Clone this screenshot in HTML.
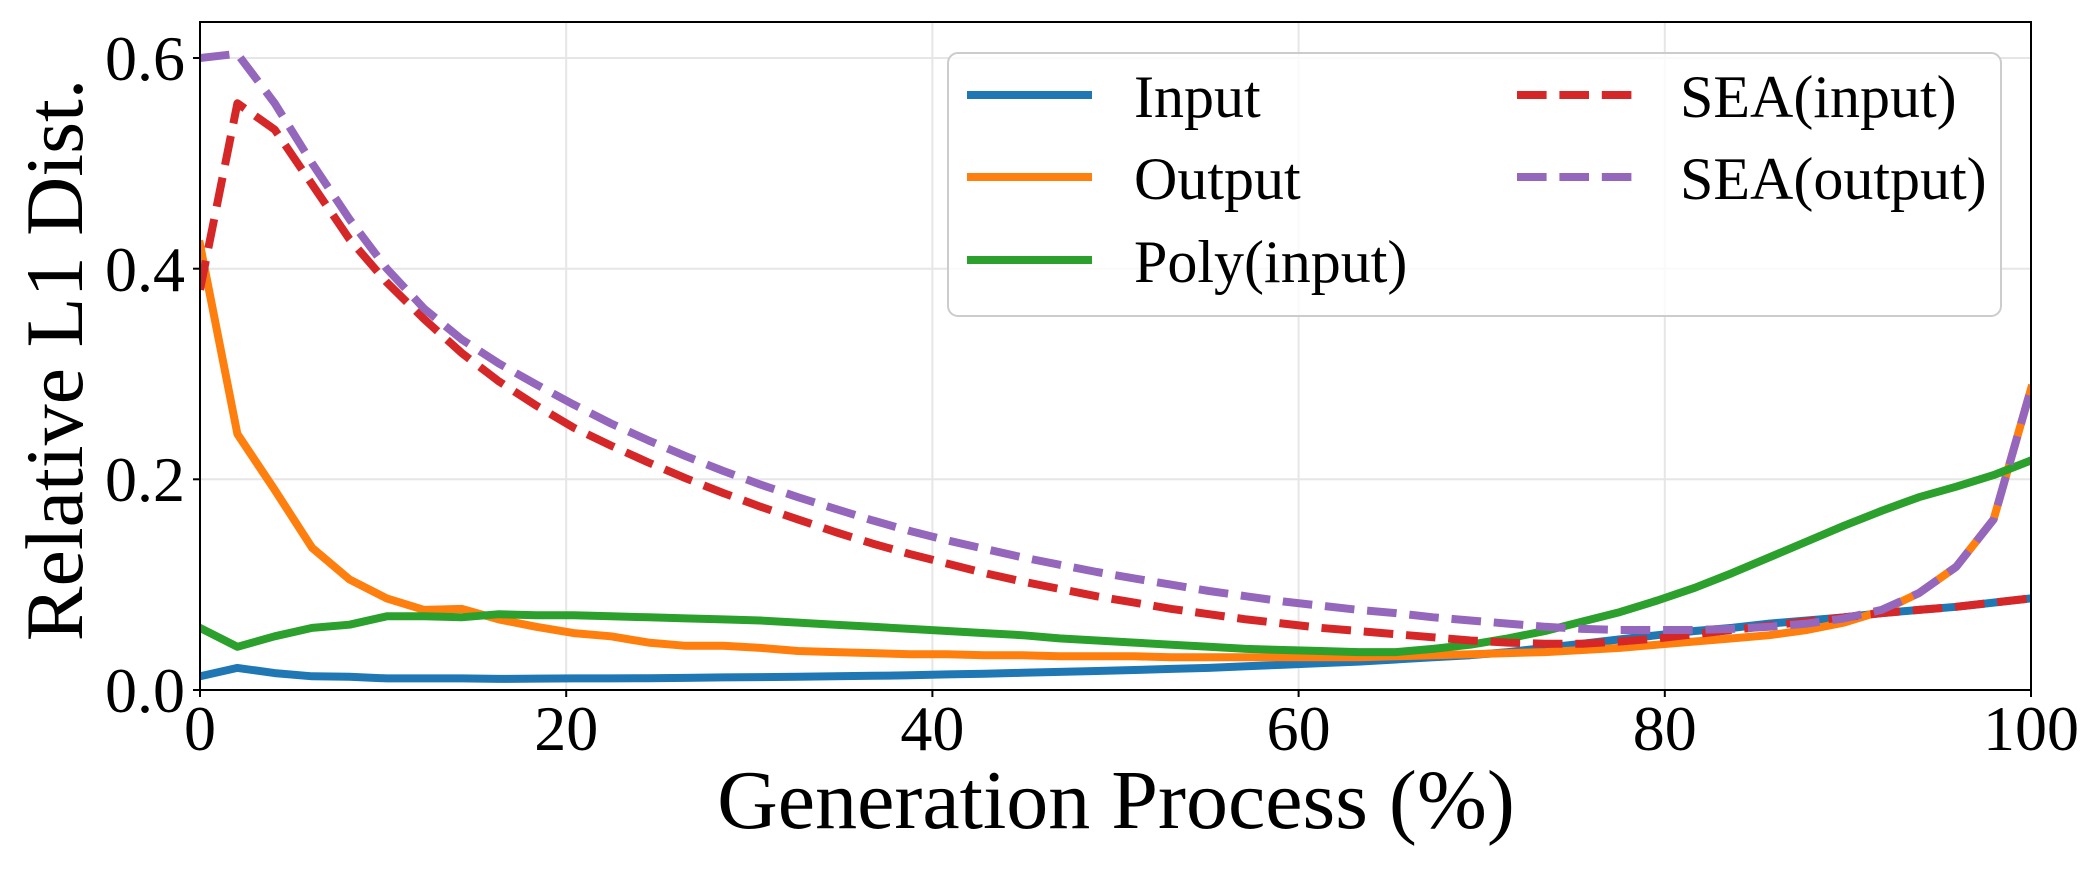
<!DOCTYPE html>
<html>
<head>
<meta charset="utf-8">
<style>
  html, body { margin: 0; padding: 0; background: #ffffff; }
  body { width: 2100px; height: 870px; overflow: hidden; }
  svg { display: block; }
  text { font-family: "Liberation Serif", "Times New Roman", serif; fill: #000; }
</style>
</head>
<body>
<svg width="2100" height="870" viewBox="0 0 2100 870" xmlns="http://www.w3.org/2000/svg">
  <defs>
    <clipPath id="axclip">
      <rect x="200" y="22" width="1831" height="668"/>
    </clipPath>
  </defs>
  <rect x="0" y="0" width="2100" height="870" fill="#ffffff"/>

  <!-- grid -->
  <g stroke="#e6e6e6" stroke-width="2" fill="none">
    <line x1="200" y1="22" x2="200" y2="690"/>
    <line x1="566.2" y1="22" x2="566.2" y2="690"/>
    <line x1="932.4" y1="22" x2="932.4" y2="690"/>
    <line x1="1298.6" y1="22" x2="1298.6" y2="690"/>
    <line x1="1664.8" y1="22" x2="1664.8" y2="690"/>
    <line x1="2031" y1="22" x2="2031" y2="690"/>
    <line x1="200" y1="690" x2="2031" y2="690"/>
    <line x1="200" y1="479.3" x2="2031" y2="479.3"/>
    <line x1="200" y1="268.7" x2="2031" y2="268.7"/>
    <line x1="200" y1="58" x2="2031" y2="58"/>
  </g>

  <g clip-path="url(#axclip)" fill="none" stroke-width="8" stroke-linejoin="round">
    <!-- Input (blue) -->
    <polyline stroke="#1f77b4" stroke-linecap="square" points="200.0,676.3 237.4,667.9 274.7,673.1 312.1,676.3 349.5,676.8 386.8,678.4 424.2,678.4 461.6,678.4 498.9,678.9 536.3,678.6 573.7,678.4 611.0,678.4 648.4,678.2 685.8,677.9 723.1,677.4 760.5,677.1 797.9,676.8 835.2,676.3 872.6,675.8 910.0,675.3 947.3,674.4 984.7,673.7 1022.1,672.8 1059.4,671.9 1096.8,671.0 1134.2,670.0 1171.5,668.9 1208.9,667.9 1246.3,666.3 1283.6,664.7 1321.0,663.1 1358.4,661.6 1395.7,659.5 1433.1,657.3 1470.5,655.2 1507.8,652.1 1545.2,647.9 1582.6,643.7 1619.9,639.4 1657.3,635.2 1694.7,631.0 1732.0,627.9 1769.4,623.6 1806.8,620.5 1844.1,617.3 1881.5,613.1 1918.9,609.9 1956.2,606.8 1993.6,602.6 2031.0,598.4"/>
    <!-- Output (orange) -->
    <polyline stroke="#ff7f0e" stroke-linecap="square" points="200.0,244.4 237.4,434.0 274.7,489.9 312.1,547.8 349.5,579.4 386.8,598.4 424.2,609.9 461.6,608.9 498.9,619.4 536.3,626.8 573.7,633.1 611.0,636.3 648.4,642.6 685.8,645.8 723.1,645.8 760.5,647.9 797.9,651.0 835.2,652.1 872.6,653.1 910.0,654.2 947.3,654.2 984.7,655.2 1022.1,655.2 1059.4,656.3 1096.8,656.3 1134.2,656.3 1171.5,657.3 1208.9,657.3 1246.3,657.3 1283.6,657.3 1321.0,657.3 1358.4,657.3 1395.7,656.3 1433.1,655.2 1470.5,654.2 1507.8,653.1 1545.2,652.1 1582.6,650.0 1619.9,647.9 1657.3,644.7 1694.7,641.5 1732.0,638.4 1769.4,635.2 1806.8,630.0 1844.1,622.6 1881.5,611.0 1918.9,593.1 1956.2,566.8 1993.6,519.4 2031.0,388.8"/>
    <!-- Poly(input) (green) -->
    <polyline stroke="#2ca02c" stroke-linecap="square" points="200.0,627.9 237.4,646.8 274.7,636.3 312.1,627.9 349.5,624.7 386.8,616.3 424.2,616.3 461.6,617.3 498.9,614.2 536.3,615.2 573.7,615.2 611.0,616.3 648.4,617.3 685.8,618.4 723.1,619.4 760.5,620.5 797.9,622.6 835.2,624.7 872.6,626.8 910.0,628.9 947.3,631.0 984.7,633.1 1022.1,635.2 1059.4,638.4 1096.8,640.5 1134.2,642.6 1171.5,644.7 1208.9,646.8 1246.3,648.9 1283.6,650.0 1321.0,651.0 1358.4,652.1 1395.7,652.1 1433.1,648.9 1470.5,644.7 1507.8,638.4 1545.2,631.0 1582.6,621.5 1619.9,612.1 1657.3,600.5 1694.7,587.8 1732.0,573.1 1769.4,557.3 1806.8,541.5 1844.1,525.7 1881.5,510.9 1918.9,497.2 1956.2,486.7 1993.6,475.1 2031.0,460.4"/>
    <!-- SEA(input) (red, dashed) -->
    <polyline stroke="#d62728" stroke-linecap="butt" stroke-dasharray="29.6 12.8" points="200.0,289.7 237.4,103.3 274.7,129.6 312.1,184.4 349.5,239.2 386.8,282.4 424.2,319.2 461.6,352.9 498.9,381.4 536.3,405.6 573.7,427.7 611.0,445.6 648.4,462.5 685.8,478.3 723.1,493.0 760.5,506.7 797.9,519.4 835.2,532.0 872.6,543.6 910.0,554.1 947.3,563.6 984.7,573.1 1022.1,581.5 1059.4,588.9 1096.8,596.3 1134.2,602.6 1171.5,608.9 1208.9,614.2 1246.3,619.4 1283.6,623.6 1321.0,627.9 1358.4,631.0 1395.7,634.2 1433.1,637.3 1470.5,640.5 1507.8,642.6 1545.2,643.7 1582.6,643.7 1619.9,641.5 1657.3,638.4 1694.7,634.2 1732.0,630.0 1769.4,625.7 1806.8,621.5 1844.1,617.3 1881.5,613.1 1918.9,609.9 1956.2,606.8 1993.6,602.6 2031.0,598.4"/>
    <!-- SEA(output) (purple, dashed) -->
    <polyline stroke="#9467bd" stroke-linecap="butt" stroke-dasharray="29.6 12.8" points="200.0,58.0 237.4,53.8 274.7,103.3 312.1,163.3 349.5,219.2 386.8,268.7 424.2,308.7 461.6,339.3 498.9,363.5 536.3,384.5 573.7,404.6 611.0,423.5 648.4,440.4 685.8,456.2 723.1,470.9 760.5,484.6 797.9,497.2 835.2,508.8 872.6,520.4 910.0,531.0 947.3,540.4 984.7,548.9 1022.1,557.3 1059.4,564.7 1096.8,572.0 1134.2,578.4 1171.5,584.7 1208.9,591.0 1246.3,596.3 1283.6,601.5 1321.0,605.7 1358.4,609.9 1395.7,613.1 1433.1,617.3 1470.5,620.5 1507.8,623.6 1545.2,626.8 1582.6,628.9 1619.9,630.0 1657.3,630.0 1694.7,630.0 1732.0,628.9 1769.4,626.8 1806.8,623.6 1844.1,618.4 1881.5,609.9 1918.9,593.1 1956.2,566.8 1993.6,519.4 2031.0,388.8"/>
  </g>

  <!-- spines -->
  <rect x="200" y="22" width="1831" height="668" fill="none" stroke="#000" stroke-width="2"/>

  <!-- ticks -->
  <g stroke="#000" stroke-width="2">
    <line x1="193" y1="690" x2="200" y2="690"/>
    <line x1="193" y1="479.3" x2="200" y2="479.3"/>
    <line x1="193" y1="268.7" x2="200" y2="268.7"/>
    <line x1="193" y1="58" x2="200" y2="58"/>
    <line x1="200" y1="690" x2="200" y2="697"/>
    <line x1="566.2" y1="690" x2="566.2" y2="697"/>
    <line x1="932.4" y1="690" x2="932.4" y2="697"/>
    <line x1="1298.6" y1="690" x2="1298.6" y2="697"/>
    <line x1="1664.8" y1="690" x2="1664.8" y2="697"/>
    <line x1="2031" y1="690" x2="2031" y2="697"/>
  </g>

  <!-- y tick labels -->
  <g font-size="64" text-anchor="end">
    <text x="185" y="712">0.0</text>
    <text x="185" y="501">0.2</text>
    <text x="185" y="291">0.4</text>
    <text x="185" y="80">0.6</text>
  </g>
  <!-- x tick labels -->
  <g font-size="64" text-anchor="middle">
    <text x="200" y="750">0</text>
    <text x="566.2" y="750">20</text>
    <text x="932.4" y="750">40</text>
    <text x="1298.6" y="750">60</text>
    <text x="1664.8" y="750">80</text>
    <text x="2031" y="750">100</text>
  </g>

  <!-- axis labels -->
  <text x="1116" y="828" font-size="84" text-anchor="middle">Generation Process (%)</text>
  <text transform="translate(82,360) rotate(-90)" font-size="82" text-anchor="middle">Relative L1 Dist.</text>

  <!-- legend -->
  <rect x="948" y="53" width="1053" height="263" rx="10" ry="10" fill="#ffffff" fill-opacity="0.8" stroke="#cccccc" stroke-width="2"/>
  <g stroke-width="8" fill="none">
    <line x1="967" y1="95" x2="1092" y2="95" stroke="#1f77b4"/>
    <line x1="967" y1="177" x2="1092" y2="177" stroke="#ff7f0e"/>
    <line x1="967" y1="260" x2="1092" y2="260" stroke="#2ca02c"/>
    <line x1="1508" y1="95" x2="1633" y2="95" stroke="#d62728" stroke-dasharray="29.6 12.8" stroke-dashoffset="-9"/>
    <line x1="1508" y1="177" x2="1633" y2="177" stroke="#9467bd" stroke-dasharray="29.6 12.8" stroke-dashoffset="-9"/>
  </g>
  <g font-size="60">
    <text x="1134" y="117">Input</text>
    <text x="1134" y="199">Output</text>
    <text x="1134" y="282">Poly(input)</text>
    <text x="1680" y="117">SEA(input)</text>
    <text x="1680" y="199">SEA(output)</text>
  </g>
</svg>
</body>
</html>
